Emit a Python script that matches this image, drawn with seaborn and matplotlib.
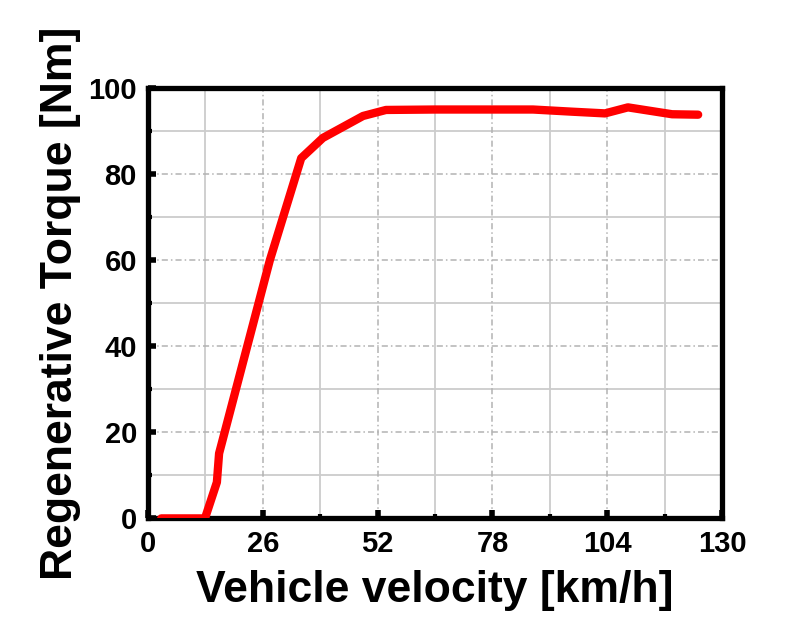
import numpy as np
import pandas as pd
import seaborn as sns
import matplotlib.pyplot as plt

# Values
velocity = [3, 12.9, 15.6, 16.1, 27.6, 34.7, 39.6, 48.7, 53.9, 65, 78, 87.2, 96, 103.5, 108.7, 118.7, 124.6]
torque = [0, 0, 8.4, 15.1, 60, 83.7, 88.4, 93.5, 94.9, 95, 95, 95, 94.5, 94.1, 95.5, 93.9, 93.8]
x_ticks = [0, 26, 52, 78, 104, 130]
y_ticks = [0, 20, 40, 60, 80, 100]

df = pd.DataFrame({'velocity': velocity, 'torque': torque})

sns.set_style('white')
plt.rcParams['font.family'] = ['Liberation Sans', 'DejaVu Sans']
plt.rcParams['font.weight'] = 'bold'
plt.rcParams['text.color'] = 'black'
plt.rcParams['axes.labelcolor'] = 'black'
plt.rcParams['xtick.color'] = 'black'
plt.rcParams['ytick.color'] = 'black'

fig = plt.figure(figsize=(8, 6.4), dpi=100)
ax = fig.add_axes([0.185, 0.19, 0.7175, 0.6725])

# grid: solid at minor, dash-dot at major
for x in np.arange(13, 130, 26):
    ax.axvline(x, color='#cccccc', lw=1.3, zorder=0)
for y in np.arange(10, 100, 20):
    ax.axhline(y, color='#cccccc', lw=1.3, zorder=0)
for x in x_ticks[1:-1]:
    ax.axvline(x, color='#b3b3b3', lw=1.1, ls=(0, (4, 2, 1, 2)), zorder=0)
for y in y_ticks[1:-1]:
    ax.axhline(y, color='#b3b3b3', lw=1.1, ls=(0, (4, 2, 1, 2)), zorder=0)

sns.lineplot(data=df, x='velocity', y='torque', color='#ff0000', lw=6,
             solid_capstyle='round', solid_joinstyle='round', ax=ax, zorder=3)

ax.set_xlim(0, 130)
ax.set_ylim(0, 100)
ax.set_xticks(x_ticks)
ax.set_yticks(y_ticks)
ax.set_xticks(np.arange(13, 130, 26), minor=True)
ax.set_yticks(np.arange(10, 100, 20), minor=True)
ax.tick_params(which='major', direction='in', length=6, width=4, labelsize=21, pad=8)
ax.tick_params(which='minor', direction='in', length=3, width=3)
ax.tick_params(axis='x', which='both', bottom=True, top=False)
ax.tick_params(axis='y', which='both', left=True, right=False)

for s in ax.spines.values():
    s.set_linewidth(3.8)
    s.set_color('black')
    s.set_visible(True)

ax.set_xlabel('Vehicle velocity [km/h]', fontsize=32, fontweight='bold', labelpad=9)
ax.set_ylabel('Regenerative Torque [Nm]', fontsize=32, fontweight='bold', labelpad=5)

plt.savefig('out.png', dpi=100)
